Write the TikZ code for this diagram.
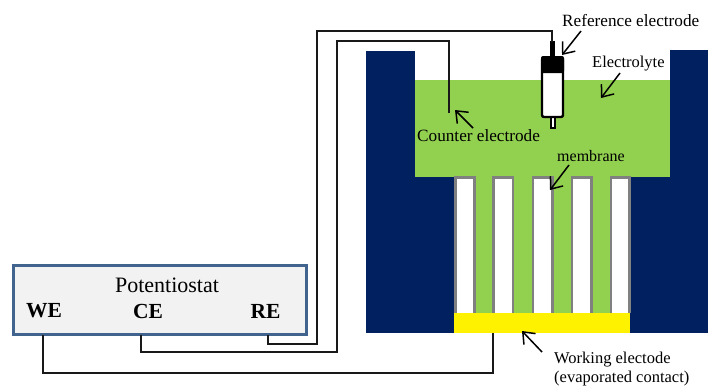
\documentclass[tikz,border=0pt]{standalone}
\usepackage{fontspec}
\setmainfont{Liberation Serif}
\usetikzlibrary{arrows.meta}
\definecolor{navy}{HTML}{002060}
\definecolor{elec}{HTML}{92D050}
\definecolor{boxedge}{HTML}{41648F}
\definecolor{boxfill}{HTML}{F2F2F2}
\definecolor{poreedge}{HTML}{808080}
\tikzset{
  x=1pt,y=-1pt,
  wire/.style={draw=black!90,line width=1.2pt,line join=miter},
  callout/.style={draw=black,line width=1.5pt,-{Straight Barb[length=10pt,width=16pt,line width=1.5pt]}},
  lab/.style={inner sep=0pt,anchor=west,font=\fontsize{17.2pt}{19pt}\selectfont},
  labsmall/.style={lab,font=\fontsize{16.5pt}{18pt}\selectfont},
  term/.style={inner sep=0pt,font=\fontsize{21.5pt}{23pt}\selectfont\bfseries},
  pore/.style={draw=poreedge,line width=2.8pt,fill=white},
}
\begin{document}
\begin{tikzpicture}
\useasboundingbox (0,0) rectangle (708,388);
\fill[white] (0,0) rectangle (708,388);
% cell body
\fill[navy] (366,51) rectangle (415,333);
\fill[navy] (415,177) rectangle (454,333);
\fill[navy] (630,177) rectangle (670,333);
\fill[navy] (670,50) rectangle (708,333);
% electrolyte
\fill[elec] (415,80) rectangle (669.5,177);
\fill[elec] (454,177) rectangle (630,313);
% membrane pores
\foreach \a/\b in {455.5/474.5,493.5/513,533/552.5,572/591.5,611/629.5}
  \draw[pore] (\a,313) -- (\a,177.5) -- (\b,177.5) -- (\b,313);
\fill[yellow] (454,313) rectangle (630,333);
% potentiostat
\node[draw=boxedge,fill=boxfill,line width=3pt,outer sep=0pt,minimum width=293pt,minimum height=69pt,inner sep=0pt,anchor=north west] (pot) at (13.5,265) {};
\node[inner sep=0pt,font=\fontsize{22pt}{24pt}\selectfont] (ptitle) at (167,285) {Potentiostat};
\node[term] (we) at (44,311) {WE};
\node[term] (ce) at (148,311) {CE};
\node[term] (re) at (265.5,311) {RE};
% reference electrode
\fill[black] (550,41) rectangle (554.5,57);
\draw[black,line width=2pt,fill=white] (550.5,117) rectangle (555,128);
\draw[black,line width=2.4pt,fill=white,rounded corners=2pt] (542,58) rectangle (563,117);
\fill[black,rounded corners=2pt] (541,56) rectangle (564,73);
% terminals on the cell
\coordinate (wetop) at (43,335);
\coordinate (cetop) at (141,335);
\coordinate (retop) at (268,335);
\coordinate (refend) at (552,42);
\coordinate (counterend) at (449,113);
\coordinate (weend) at (493,333);
% wires
\draw[wire] (retop) |- (317,344) |- (552,31) -- (refend);
\draw[wire] (cetop) |- (337,352) |- (449,41) -- (counterend);
\draw[wire] (wetop) |- (493,373) -- (weend);
% labels
\node[lab] (lref) at (562,21) {Reference electrode};
\node[labsmall] (lel) at (592,64) {Electrolyte};
\node[lab] (lcou) at (417,136) {Counter electrode};
\node[labsmall,font=\fontsize{16pt}{18pt}\selectfont] (lmem) at (557,156) {membrane};
\node[labsmall] (lwe) at (554,360) {Working electode};
\node[labsmall] (lwe2) at (554,379) {(evaporated contact)};
% callouts
\coordinate (p1) at (562,55);
\coordinate (p2) at (601,98);
\coordinate (p3) at (455,110);
\coordinate (p4) at (550,190);
\coordinate (p5) at (522,331);
\draw[callout] (581,31) -- (p1);
\draw[callout] (620,73) -- (p2);
\draw[callout] (473,128) -- (p3);
\draw[callout] (569,165) -- (p4);
\draw[callout] (542,352) -- (p5);
\end{tikzpicture}
\end{document}
